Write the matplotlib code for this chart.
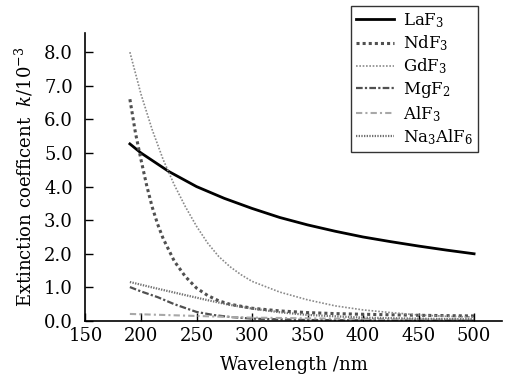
import matplotlib
matplotlib.use("Agg")
import matplotlib.pyplot as plt

# Data (wavelength in nm, k in 1e-3)
w_laf3 = [190, 200, 225, 250, 275, 300, 325, 350, 375, 400, 425, 450, 475, 500]
k_laf3 = [5.27, 5.0, 4.45, 4.0, 3.65, 3.35, 3.08, 2.86, 2.67, 2.5, 2.36, 2.23, 2.11, 2.0]

w_ndf3 = [190, 195, 200, 205, 210, 215, 220, 230, 240, 250, 260, 270, 280, 300, 325, 350, 375, 400, 450, 500]
k_ndf3 = [6.6, 5.6, 4.8, 4.05, 3.4, 2.88, 2.45, 1.78, 1.32, 0.98, 0.76, 0.6, 0.5, 0.38, 0.3, 0.25, 0.22, 0.2, 0.17, 0.15]

w_gdf3 = [190, 200, 210, 220, 230, 240, 250, 260, 270, 280, 290, 300, 325, 350, 375, 400, 425, 450, 475, 500]
k_gdf3 = [8.0, 6.75, 5.7, 4.8, 4.05, 3.4, 2.82, 2.32, 1.92, 1.62, 1.38, 1.18, 0.86, 0.63, 0.45, 0.33, 0.25, 0.18, 0.14, 0.12]

w_mgf2 = [190, 200, 215, 230, 250, 265, 280, 300, 350, 400, 450, 500]
k_mgf2 = [1.01, 0.88, 0.71, 0.5, 0.27, 0.18, 0.12, 0.07, 0.03, 0.02, 0.015, 0.01]

w_alf3 = [190, 250, 300, 350, 400, 450, 500]
k_alf3 = [0.21, 0.15, 0.1, 0.08, 0.06, 0.05, 0.04]

w_na3alf6 = [190, 210, 240, 260, 280, 300, 325, 350, 400, 450, 500]
k_na3alf6 = [1.16, 1.0, 0.77, 0.62, 0.48, 0.37, 0.26, 0.18, 0.1, 0.07, 0.05]

labels = ["LaF$_3$", "NdF$_3$", "GdF$_3$", "MgF$_2$", "AlF$_3$", "Na$_3$AlF$_6$"]
xticks = [150, 200, 250, 300, 350, 400, 450, 500]
yticks = [0, 1, 2, 3, 4, 5, 6, 7, 8]

plt.rcParams['font.family'] = ['DejaVu Serif']
plt.rcParams['mathtext.fontset'] = 'dejavuserif'

fig = plt.figure(figsize=(5.1, 3.78), dpi=100)
ax = fig.add_axes([0.1676, 0.1508, 0.8164, 0.7619])

ax.plot(w_laf3, k_laf3, color='black', lw=2.0, ls='-', label=labels[0])
ax.plot(w_ndf3, k_ndf3, color='#505050', lw=2.2, ls=(0, (1, 1)), label=labels[1])
ax.plot(w_gdf3, k_gdf3, color='#8a8a8a', lw=1.2, ls=(0, (1, 1)), label=labels[2])
ax.plot(w_mgf2, k_mgf2, color='#505050', lw=1.6, ls=(0, (3, 1, 1, 1)), label=labels[3])
ax.plot(w_alf3, k_alf3, color='#a8a8a8', lw=1.5, ls=(0, (3, 1.5, 1, 1.5)), label=labels[4])
ax.plot(w_na3alf6, k_na3alf6, color='#707070', lw=1.6, ls=(0, (0.6, 0.6)), label=labels[5])

ax.set_xlim(150, 525)
ax.set_ylim(0, 8.57)
ax.set_xticks(xticks)
ax.set_yticks(yticks)
ax.set_yticklabels([f"{v:.1f}" for v in yticks])
ax.spines['top'].set_visible(False)
ax.spines['right'].set_visible(False)
ax.spines['left'].set_linewidth(1.2)
ax.spines['bottom'].set_linewidth(1.2)
ax.tick_params(axis='both', direction='in', length=6, width=1.0, labelsize=13)
ax.tick_params(axis='x', pad=4)
ax.tick_params(axis='y', pad=9)

ax.set_xlabel("Wavelength /nm", fontsize=13, labelpad=8)
ax.set_ylabel("Extinction coefficent  $k$/10$^{-3}$", fontsize=13, labelpad=6)

leg = fig.legend(loc='upper left', bbox_to_anchor=(0.688, 0.984), fontsize=12,
                 frameon=True, fancybox=False, edgecolor='black', handlelength=2.3,
                 labelspacing=0.22, borderpad=0.3, handletextpad=0.5, borderaxespad=0)
leg.get_frame().set_linewidth(1.0)

fig.savefig("out.png", dpi=100)
